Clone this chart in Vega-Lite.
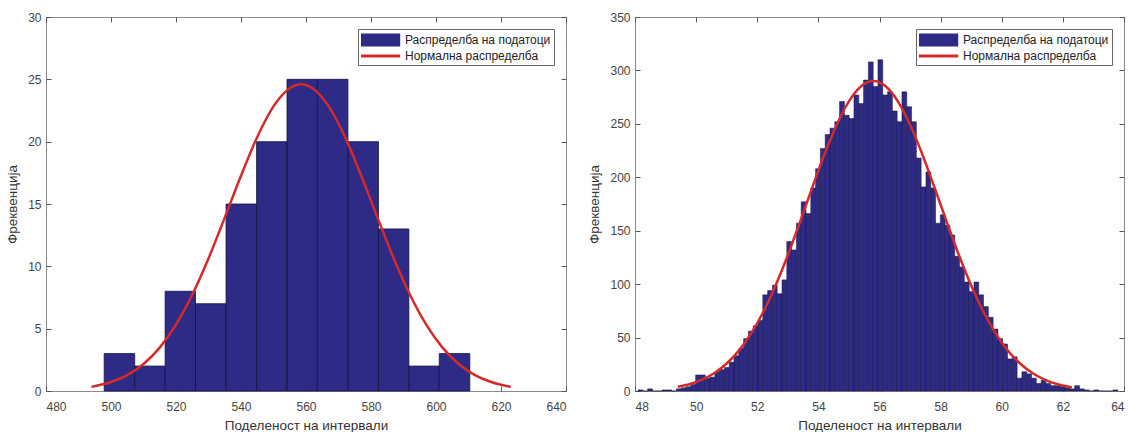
{
  "$schema": "https://vega.github.io/schema/vega-lite/v6.json",
  "padding": {"left": 5, "top": 10, "right": 10, "bottom": 0},
  "spacing": 20,
  "config": {
    "font": "Liberation Sans",
    "view": {"stroke": "#8a8a8a", "strokeWidth": 1},
    "axis": {
      "domain": false, "grid": false, "tickColor": "#555", "tickSize": -5,
      "labelPadding": 10, "labelColor": "#444", "labelFontSize": 12,
      "titleColor": "#333", "titleFontSize": 13.5, "titleFontWeight": "normal"
    },
    "axisX": {"labelPadding": 15},
    "legend": {
      "orient": "top-right", "offset": 12, "title": null,
      "strokeColor": "#666", "fillColor": "white", "padding": 3,
      "symbolSize": 256, "symbolOpacity": 1, "symbolStrokeWidth": 0,
      "labelOffset": 28, "labelFontSize": 12, "labelColor": "#222", "rowPadding": 1, "labelLimit": 300
    }
  },
  "datasets": {
    "leftBins": [
      {"x0": 497.9, "x1": 507.3, "count": 3},
      {"x0": 507.3, "x1": 516.65, "count": 2},
      {"x0": 516.65, "x1": 526.0, "count": 8},
      {"x0": 526.0, "x1": 535.4, "count": 7},
      {"x0": 535.4, "x1": 544.8, "count": 15},
      {"x0": 544.8, "x1": 554.15, "count": 20},
      {"x0": 554.15, "x1": 563.5, "count": 25},
      {"x0": 563.5, "x1": 572.9, "count": 25},
      {"x0": 572.9, "x1": 582.3, "count": 20},
      {"x0": 582.3, "x1": 591.65, "count": 13},
      {"x0": 591.65, "x1": 601.0, "count": 2},
      {"x0": 601.0, "x1": 610.4, "count": 3}
    ],
    "leftCurve": [
      {"x": 494, "y": 0.33}, {"x": 500, "y": 0.72}, {"x": 505, "y": 1.28}, {"x": 510, "y": 2.17},
      {"x": 515, "y": 3.48}, {"x": 520, "y": 5.32}, {"x": 525, "y": 7.72}, {"x": 530, "y": 10.63},
      {"x": 535, "y": 13.91}, {"x": 540, "y": 17.27}, {"x": 545, "y": 20.38}, {"x": 550, "y": 22.83},
      {"x": 555, "y": 24.29}, {"x": 558.5, "y": 24.6}, {"x": 562, "y": 24.29}, {"x": 567, "y": 22.83},
      {"x": 572, "y": 20.38}, {"x": 577, "y": 17.27}, {"x": 582, "y": 13.91}, {"x": 587, "y": 10.63},
      {"x": 592, "y": 7.72}, {"x": 597, "y": 5.32}, {"x": 602, "y": 3.48}, {"x": 607, "y": 2.17},
      {"x": 612, "y": 1.28}, {"x": 617, "y": 0.72}, {"x": 623, "y": 0.33}
    ],
    "rightBins": [
      {"x0": 48.100, "x1": 48.257, "count": 1}, {"x0": 48.257, "x1": 48.414, "count": 0},
      {"x0": 48.414, "x1": 48.571, "count": 2}, {"x0": 48.571, "x1": 48.728, "count": 0},
      {"x0": 48.728, "x1": 48.885, "count": 0}, {"x0": 48.885, "x1": 49.042, "count": 1},
      {"x0": 49.042, "x1": 49.199, "count": 1}, {"x0": 49.199, "x1": 49.356, "count": 0},
      {"x0": 49.356, "x1": 49.513, "count": 2}, {"x0": 49.513, "x1": 49.670, "count": 3},
      {"x0": 49.670, "x1": 49.827, "count": 4}, {"x0": 49.827, "x1": 49.984, "count": 6},
      {"x0": 49.984, "x1": 50.141, "count": 15}, {"x0": 50.141, "x1": 50.298, "count": 15},
      {"x0": 50.298, "x1": 50.455, "count": 12}, {"x0": 50.455, "x1": 50.612, "count": 13},
      {"x0": 50.612, "x1": 50.769, "count": 18}, {"x0": 50.769, "x1": 50.926, "count": 20},
      {"x0": 50.926, "x1": 51.083, "count": 22}, {"x0": 51.083, "x1": 51.240, "count": 27},
      {"x0": 51.240, "x1": 51.397, "count": 33}, {"x0": 51.397, "x1": 51.554, "count": 40},
      {"x0": 51.554, "x1": 51.711, "count": 49}, {"x0": 51.711, "x1": 51.868, "count": 56},
      {"x0": 51.868, "x1": 52.025, "count": 61}, {"x0": 52.025, "x1": 52.182, "count": 66},
      {"x0": 52.182, "x1": 52.339, "count": 90}, {"x0": 52.339, "x1": 52.496, "count": 94},
      {"x0": 52.496, "x1": 52.653, "count": 99}, {"x0": 52.653, "x1": 52.810, "count": 91},
      {"x0": 52.810, "x1": 52.967, "count": 104}, {"x0": 52.967, "x1": 53.124, "count": 140},
      {"x0": 53.124, "x1": 53.281, "count": 132}, {"x0": 53.281, "x1": 53.438, "count": 157},
      {"x0": 53.438, "x1": 53.595, "count": 177}, {"x0": 53.595, "x1": 53.752, "count": 166},
      {"x0": 53.752, "x1": 53.909, "count": 190}, {"x0": 53.909, "x1": 54.066, "count": 208},
      {"x0": 54.066, "x1": 54.223, "count": 227}, {"x0": 54.223, "x1": 54.380, "count": 240},
      {"x0": 54.380, "x1": 54.537, "count": 246}, {"x0": 54.537, "x1": 54.694, "count": 252},
      {"x0": 54.694, "x1": 54.851, "count": 271}, {"x0": 54.851, "x1": 55.008, "count": 258},
      {"x0": 55.008, "x1": 55.165, "count": 255}, {"x0": 55.165, "x1": 55.322, "count": 277},
      {"x0": 55.322, "x1": 55.479, "count": 269}, {"x0": 55.479, "x1": 55.636, "count": 291},
      {"x0": 55.636, "x1": 55.793, "count": 308}, {"x0": 55.793, "x1": 55.950, "count": 285},
      {"x0": 55.950, "x1": 56.107, "count": 310}, {"x0": 56.107, "x1": 56.264, "count": 277},
      {"x0": 56.264, "x1": 56.421, "count": 280}, {"x0": 56.421, "x1": 56.578, "count": 262},
      {"x0": 56.578, "x1": 56.735, "count": 252}, {"x0": 56.735, "x1": 56.892, "count": 280},
      {"x0": 56.892, "x1": 57.049, "count": 266}, {"x0": 57.049, "x1": 57.206, "count": 252},
      {"x0": 57.206, "x1": 57.363, "count": 218}, {"x0": 57.363, "x1": 57.520, "count": 191},
      {"x0": 57.520, "x1": 57.677, "count": 205}, {"x0": 57.677, "x1": 57.834, "count": 190},
      {"x0": 57.834, "x1": 57.991, "count": 157}, {"x0": 57.991, "x1": 58.148, "count": 165},
      {"x0": 58.148, "x1": 58.305, "count": 155}, {"x0": 58.305, "x1": 58.462, "count": 146},
      {"x0": 58.462, "x1": 58.619, "count": 126}, {"x0": 58.619, "x1": 58.776, "count": 116},
      {"x0": 58.776, "x1": 58.933, "count": 102}, {"x0": 58.933, "x1": 59.090, "count": 93},
      {"x0": 59.090, "x1": 59.247, "count": 102}, {"x0": 59.247, "x1": 59.404, "count": 90},
      {"x0": 59.404, "x1": 59.561, "count": 79}, {"x0": 59.561, "x1": 59.718, "count": 69},
      {"x0": 59.718, "x1": 59.875, "count": 58}, {"x0": 59.875, "x1": 60.032, "count": 49},
      {"x0": 60.032, "x1": 60.189, "count": 44}, {"x0": 60.189, "x1": 60.346, "count": 30},
      {"x0": 60.346, "x1": 60.503, "count": 32}, {"x0": 60.503, "x1": 60.660, "count": 12},
      {"x0": 60.660, "x1": 60.817, "count": 18}, {"x0": 60.817, "x1": 60.974, "count": 16},
      {"x0": 60.974, "x1": 61.131, "count": 12}, {"x0": 61.131, "x1": 61.288, "count": 7},
      {"x0": 61.288, "x1": 61.445, "count": 10}, {"x0": 61.445, "x1": 61.602, "count": 7},
      {"x0": 61.602, "x1": 61.759, "count": 5}, {"x0": 61.759, "x1": 61.916, "count": 5},
      {"x0": 61.916, "x1": 62.073, "count": 4}, {"x0": 62.073, "x1": 62.230, "count": 3},
      {"x0": 62.230, "x1": 62.387, "count": 2}, {"x0": 62.387, "x1": 62.544, "count": 5},
      {"x0": 62.544, "x1": 62.701, "count": 2}, {"x0": 62.701, "x1": 62.858, "count": 1},
      {"x0": 62.858, "x1": 63.015, "count": 0}, {"x0": 63.015, "x1": 63.172, "count": 1},
      {"x0": 63.172, "x1": 63.329, "count": 0}, {"x0": 63.329, "x1": 63.486, "count": 0},
      {"x0": 63.486, "x1": 63.643, "count": 0}, {"x0": 63.643, "x1": 63.800, "count": 1}
    ],
    "rightCurve": [
      {"x": 49.4, "y": 3.9}, {"x": 49.8, "y": 6.6}, {"x": 50.2, "y": 10.7}, {"x": 50.6, "y": 16.8},
      {"x": 51.0, "y": 25.7}, {"x": 51.4, "y": 37.8}, {"x": 51.8, "y": 53.9}, {"x": 52.2, "y": 74.2},
      {"x": 52.6, "y": 98.8}, {"x": 53.0, "y": 127.1}, {"x": 53.4, "y": 158.2}, {"x": 53.8, "y": 190.4},
      {"x": 54.2, "y": 221.5}, {"x": 54.6, "y": 249.2}, {"x": 55.0, "y": 271.1}, {"x": 55.4, "y": 285.2},
      {"x": 55.8, "y": 290}, {"x": 56.2, "y": 285.2}, {"x": 56.6, "y": 271.1}, {"x": 57.0, "y": 249.2},
      {"x": 57.4, "y": 221.5}, {"x": 57.8, "y": 190.4}, {"x": 58.2, "y": 158.2}, {"x": 58.6, "y": 127.1},
      {"x": 59.0, "y": 98.8}, {"x": 59.4, "y": 74.2}, {"x": 59.8, "y": 53.9}, {"x": 60.2, "y": 37.8},
      {"x": 60.6, "y": 25.7}, {"x": 61.0, "y": 16.8}, {"x": 61.4, "y": 10.7}, {"x": 61.8, "y": 6.6},
      {"x": 62.2, "y": 3.9}, {"x": 62.3, "y": 3.4}
    ],
    "legendRows": [
      {"s": "Распределба на податоци"},
      {"s": "Нормална распределба"}
    ]
  },
  "resolve": {
    "scale": {"color": "independent", "shape": "independent", "x": "independent", "y": "independent"},
    "legend": {"color": "independent", "shape": "independent"}
  },
  "hconcat": [
    {
      "width": 520,
      "height": 374,
      "resolve": {"axis": {"x": "independent", "y": "independent"}},
      "layer": [
        {
          "data": {"name": "leftBins"},
          "mark": {"type": "rect", "color": "#2e2b87", "stroke": "#15133d", "strokeWidth": 0.8},
          "encoding": {
            "x": {"field": "x0", "type": "quantitative", "scale": {"domain": [480, 640], "nice": false, "zero": false},
                  "axis": {"values": [480, 500, 520, 540, 560, 580, 600, 620, 640], "title": "Поделеност на интервали", "titlePadding": 6}},
            "x2": {"field": "x1"},
            "y": {"field": "count", "type": "quantitative", "scale": {"domain": [0, 30], "nice": false},
                  "axis": {"values": [0, 5, 10, 15, 20, 25, 30], "title": "Фреквенција", "titlePadding": 8}}
          }
        },
        {
          "data": {"name": "leftCurve"},
          "mark": {"type": "line", "color": "#d42a2a", "strokeWidth": 2.5, "interpolate": "monotone"},
          "encoding": {
            "x": {"field": "x", "type": "quantitative", "axis": {"orient": "top", "labels": false, "title": null, "values": [480, 500, 520, 540, 560, 580, 600, 620, 640]}},
            "y": {"field": "y", "type": "quantitative", "axis": {"orient": "right", "labels": false, "title": null, "values": [0, 5, 10, 15, 20, 25, 30]}}
          }
        },
        {
          "data": {"name": "legendRows"},
          "mark": {"type": "point", "filled": true, "opacity": 0},
          "encoding": {
            "color": {"field": "s", "type": "nominal", "scale": {"domain": ["Распределба на податоци", "Нормална распределба"], "range": ["#2e2b87", "#d42a2a"]}},
            "shape": {"field": "s", "type": "nominal", "scale": {"domain": ["Распределба на податоци", "Нормална распределба"], "range": ["M-1,-0.8H3.9V0.8H-1Z", "M-1,-0.2H3.9V0.2H-1Z"]}}
          }
        }
      ]
    },
    {
      "width": 489,
      "height": 374,
      "resolve": {"axis": {"x": "independent", "y": "independent"}},
      "layer": [
        {
          "data": {"name": "rightBins"},
          "mark": {"type": "rect", "color": "#2e2b87", "stroke": "#15133d", "strokeWidth": 0.5},
          "encoding": {
            "x": {"field": "x0", "type": "quantitative", "scale": {"domain": [48, 64], "nice": false, "zero": false},
                  "axis": {"values": [48, 50, 52, 54, 56, 58, 60, 62, 64], "title": "Поделеност на интервали", "titlePadding": 6}},
            "x2": {"field": "x1"},
            "y": {"field": "count", "type": "quantitative", "scale": {"domain": [0, 350], "nice": false},
                  "axis": {"values": [0, 50, 100, 150, 200, 250, 300, 350], "title": "Фреквенција", "titlePadding": 8}}
          }
        },
        {
          "data": {"name": "rightCurve"},
          "mark": {"type": "line", "color": "#d42a2a", "strokeWidth": 2.5, "interpolate": "monotone"},
          "encoding": {
            "x": {"field": "x", "type": "quantitative", "axis": {"orient": "top", "labels": false, "title": null, "values": [48, 50, 52, 54, 56, 58, 60, 62, 64]}},
            "y": {"field": "y", "type": "quantitative", "axis": {"orient": "right", "labels": false, "title": null, "values": [0, 50, 100, 150, 200, 250, 300, 350]}}
          }
        },
        {
          "data": {"name": "legendRows"},
          "mark": {"type": "point", "filled": true, "opacity": 0},
          "encoding": {
            "color": {"field": "s", "type": "nominal", "scale": {"domain": ["Распределба на податоци", "Нормална распределба"], "range": ["#2e2b87", "#d42a2a"]}},
            "shape": {"field": "s", "type": "nominal", "scale": {"domain": ["Распределба на податоци", "Нормална распределба"], "range": ["M-1,-0.8H3.9V0.8H-1Z", "M-1,-0.2H3.9V0.2H-1Z"]}}
          }
        }
      ]
    }
  ]
}
